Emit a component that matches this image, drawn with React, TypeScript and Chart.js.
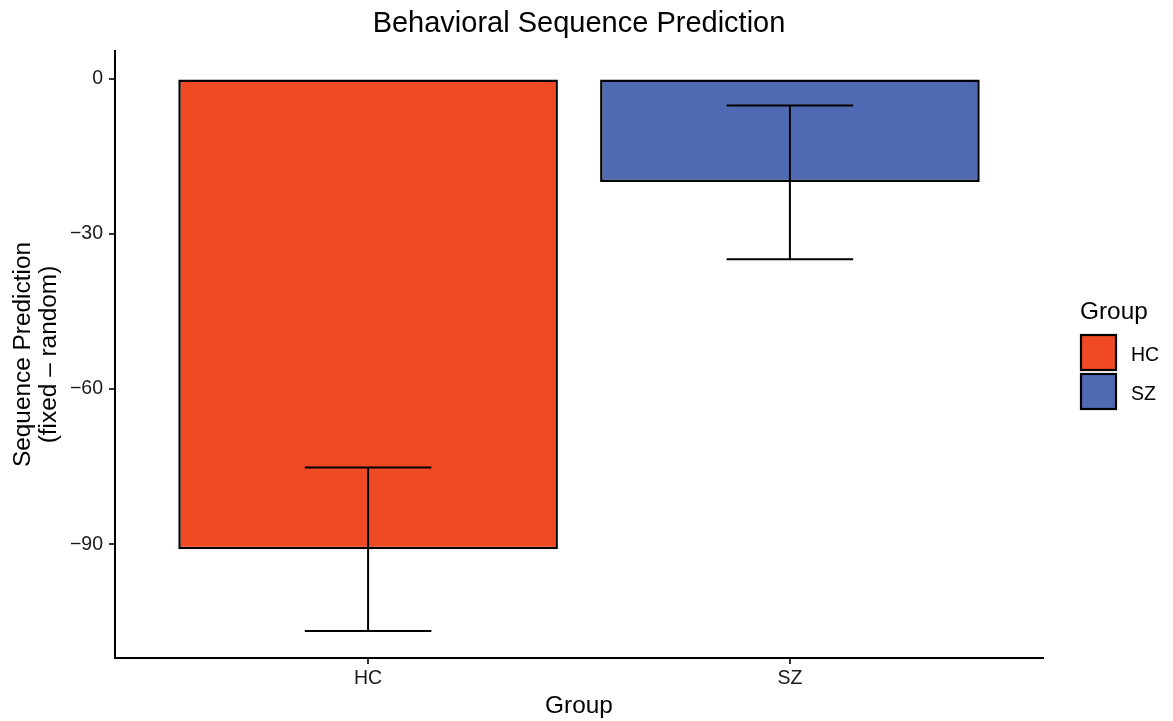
import React, { useEffect, useRef } from "react";
import { Chart, registerables } from "chart.js";

Chart.register(...registerables);

const chartTitle = "Behavioral Sequence Prediction";
const groups = ["HC", "SZ"];
const groupX = [1, 2];
const means = [-91.0, -20.0];
const errLow = [-106.8, -34.9];
const errHigh = [-75.2, -5.2];
const barColors = ["#EF4A23", "#4F6AB2"];
const yTicks = [-90, -60, -30, 0];
const xTitle = "Group";
const yTitleLines = ["Sequence Prediction", "(fixed \u2013 random)"];
const legendTitle = "Group";

const FONT = "'Liberation Sans', Arial, Helvetica, sans-serif";
const TICK_COLOR = "#1a1a1a";
const W = 1173;
const H = 721;

const errorBarPlugin = {
  id: "errorBars",
  afterDatasetsDraw(chart: any) {
    const { ctx, scales } = chart;
    const xs = scales.x;
    const ys = scales.y;
    ctx.save();
    ctx.strokeStyle = "#000";
    ctx.lineWidth = 2;
    groupX.forEach((gx, i) => {
      const xc = xs.getPixelForValue(gx);
      const xl = xs.getPixelForValue(gx - 0.15);
      const xr = xs.getPixelForValue(gx + 0.15);
      const yl = ys.getPixelForValue(errLow[i]);
      const yh = ys.getPixelForValue(errHigh[i]);
      ctx.beginPath();
      ctx.moveTo(xc, yl);
      ctx.lineTo(xc, yh);
      ctx.moveTo(xl, yl);
      ctx.lineTo(xr, yl);
      ctx.moveTo(xl, yh);
      ctx.lineTo(xr, yh);
      ctx.stroke();
    });
    ctx.restore();
  },
};

const textPlugin = {
  id: "texts",
  afterDraw(chart: any) {
    const { ctx, chartArea } = chart;
    const cx = (chartArea.left + chartArea.right) / 2;
    const cy = (chartArea.top + chartArea.bottom) / 2;
    ctx.save();
    ctx.fillStyle = "#000";
    ctx.textBaseline = "alphabetic";
    // title
    ctx.textAlign = "center";
    ctx.font = `29px ${FONT}`;
    ctx.fillText(chartTitle, cx, 32);
    // x title
    ctx.font = `24.4px ${FONT}`;
    ctx.fillText(xTitle, cx, 713);
    // y title
    ctx.save();
    ctx.translate(0, cy);
    ctx.rotate(-Math.PI / 2);
    ctx.fillText(yTitleLines[0], 0, 30);
    ctx.fillText(yTitleLines[1], 0, 56);
    ctx.restore();
    // legend
    ctx.textAlign = "left";
    ctx.font = `24.4px ${FONT}`;
    ctx.fillText(legendTitle, 1080, 319);
    ctx.font = `19.5px ${FONT}`;
    groups.forEach((g, i) => {
      const top = 334 + i * 39;
      ctx.fillStyle = barColors[i];
      ctx.fillRect(1081, top + 1, 35, 35);
      ctx.strokeStyle = "#000";
      ctx.lineWidth = 2.2;
      ctx.strokeRect(1081, top + 1, 35, 35);
      ctx.fillStyle = "#000";
      ctx.fillText(g, 1131, top + 27);
    });
    ctx.restore();
  },
};

export default function App() {
  const ref = useRef<HTMLCanvasElement | null>(null);
  useEffect(() => {
    if (!ref.current) return;
    const chart = new Chart(ref.current, {
      type: "bar",
      data: {
        datasets: [
          {
            data: groupX.map((x, i) => ({ x, y: means[i] })),
            backgroundColor: barColors,
            borderColor: "#000",
            borderWidth: 2.5,
            borderSkipped: false,
            barPercentage: 0.9,
            categoryPercentage: 1.0,
          },
        ],
      },
      plugins: [errorBarPlugin, textPlugin],
      options: {
        responsive: false,
        animation: false,
        events: [],
        layout: { padding: { left: 0, right: 130, top: 51, bottom: 0 } },
        plugins: {
          legend: { display: false },
          tooltip: { enabled: false },
          title: { display: false },
        },
        scales: {
          x: {
            type: "linear",
            offset: false,
            min: 0.4,
            max: 2.6,
            afterBuildTicks: (s: any) => {
              s.ticks = groupX.map((v) => ({ value: v }));
            },
            afterFit: (s: any) => {
              s.height = 63;
            },
            ticks: {
              autoSkip: false,
              maxRotation: 0,
              padding: 3,
              color: TICK_COLOR,
              font: { family: FONT, size: 19.5 },
              callback: (v: any) => groups[groupX.indexOf(Number(v))] ?? "",
            },
            grid: {
              display: true,
              offset: false,
              drawOnChartArea: false,
              drawTicks: true,
              tickLength: 6,
              color: "#333",
              lineWidth: 2,
            },
            border: { display: true, color: "#000", width: 2 },
          },
          y: {
            type: "linear",
            min: -112,
            max: 5.33,
            afterBuildTicks: (s: any) => {
              s.ticks = yTicks.map((v) => ({ value: v }));
            },
            afterFit: (s: any) => {
              s.width = 115;
            },
            ticks: {
              padding: 6,
              color: TICK_COLOR,
              font: { family: FONT, size: 19.5 },
              callback: (v: any) => String(v).replace("-", "\u2212"),
            },
            grid: {
              display: true,
              drawOnChartArea: false,
              drawTicks: true,
              tickLength: 6,
              color: "#333",
              lineWidth: 2,
            },
            border: { display: true, color: "#000", width: 2 },
          },
        },
      },
    });
    return () => chart.destroy();
  }, []);
  return (
    <div style={{ position: "fixed", left: 0, top: 0, width: W, height: H, background: "#fff" }}>
      <canvas ref={ref} width={W} height={H} style={{ width: W, height: H, display: "block" }} />
    </div>
  );
}
